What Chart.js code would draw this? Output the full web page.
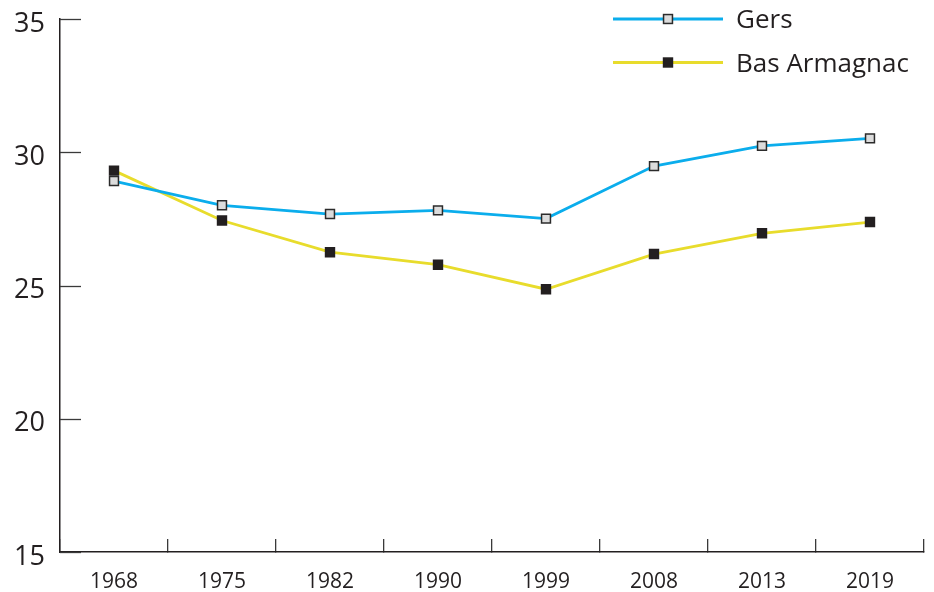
<!DOCTYPE html>
<html>
<head>
<meta charset="utf-8">
<script src="https://cdn.jsdelivr.net/npm/chart.js@4/dist/chart.umd.min.js"></script>
<style>
  html, body { margin: 0; padding: 0; background: #fff; }
  #wrap { width: 934px; height: 592px; }
</style>
</head>
<body>
<div id="wrap"><canvas id="ageChart"></canvas></div>
<script>
// data
var years = ['1968', '1975', '1982', '1990', '1999', '2008', '2013', '2019'];
var gers = [28.92, 28.01, 27.68, 27.82, 27.51, 29.48, 30.24, 30.52];
var basArmagnac = [29.31, 27.44, 26.25, 25.78, 24.86, 26.18, 26.96, 27.38];
var yTicks = [15, 20, 25, 30, 35];

var textColor = '#231f20';
var fontFamily = '"Open Sans", "Noto Sans", sans-serif';

// y ticks point into the plot, so draw them from the scale ourselves
var innerYTicks = {
  id: 'innerYTicks',
  afterDraw: function(chart) {
    var ctx = chart.ctx;
    var y = chart.scales.y;
    ctx.save();
    ctx.strokeStyle = '#3a3a3a';
    ctx.lineWidth = 1.3;
    y.ticks.forEach(function(t) {
      var py = Math.round(y.getPixelForValue(t.value)) + 0.5;
      ctx.beginPath();
      ctx.moveTo(y.right, py);
      ctx.lineTo(y.right + 21, py);
      ctx.stroke();
    });
    ctx.restore();
  }
};

// legend sits inside the plot, top right, with line + marker samples
var insideLegend = {
  id: 'insideLegend',
  afterDraw: function(chart) {
    var ctx = chart.ctx;
    var rows = [19, 62.5];
    ctx.save();
    chart.data.datasets.forEach(function(ds, i) {
      var y = rows[i];
      ctx.strokeStyle = ds.borderColor;
      ctx.lineWidth = ds.borderWidth;
      ctx.beginPath();
      ctx.moveTo(613, y);
      ctx.lineTo(723, y);
      ctx.stroke();
      ctx.fillStyle = ds.pointBackgroundColor;
      ctx.strokeStyle = ds.pointBorderColor;
      ctx.lineWidth = ds.pointBorderWidth;
      var s = ds.pointRadius * Math.SQRT1_2;
      ctx.fillRect(668 - s, y - s, 2 * s, 2 * s);
      ctx.strokeRect(668 - s, y - s, 2 * s, 2 * s);
      ctx.fillStyle = textColor;
      ctx.font = '26px ' + fontFamily;
      ctx.textBaseline = 'middle';
      ctx.textAlign = 'left';
      ctx.fillText(ds.label, 736, y + 2);
    });
    ctx.restore();
  }
};

var ctx = document.getElementById('ageChart');

var ageChart = new Chart(ctx, {
  type: 'line',
  data: {
    labels: years,
    datasets: [
      {
        label: 'Gers',
        data: gers,
        borderColor: '#0badec',
        borderWidth: 2.8,
        pointStyle: 'rect',
        pointRadius: 6.3,
        pointBackgroundColor: '#dcdcdc',
        pointBorderColor: '#2b2b2b',
        pointBorderWidth: 1.5,
        tension: 0
      },
      {
        label: 'Bas Armagnac',
        data: basArmagnac,
        borderColor: '#e8dc2c',
        borderWidth: 2.8,
        pointStyle: 'rect',
        pointRadius: 6.3,
        pointBackgroundColor: '#231f20',
        pointBorderColor: '#231f20',
        pointBorderWidth: 1.5,
        tension: 0
      }
    ]
  },
  options: {
    responsive: true,
    maintainAspectRatio: false,
    animation: false,
    layout: { padding: { left: 0, right: 10, top: 19, bottom: 0 } },
    plugins: {
      legend: { display: false },
      tooltip: { enabled: false }
    },
    scales: {
      x: {
        offset: true,
        grid: {
          offset: true,
          drawOnChartArea: false,
          drawTicks: true,
          tickLength: -13,
          color: '#3a3a3a',
          lineWidth: 1.3
        },
        border: { display: true, color: textColor, width: 1.5 },
        ticks: {
          color: textColor,
          padding: 30,
          font: { family: fontFamily, size: 21 }
        },
        afterFit: function(scale) {
          scale.height = 40;
          scale.paddingLeft = 0;
          scale.paddingRight = 0;
        }
      },
      y: {
        min: 15,
        max: 35,
        afterBuildTicks: function(scale) {
          scale.ticks = yTicks.map(function(v) { return { value: v }; });
        },
        grid: {
          drawOnChartArea: false,
          drawTicks: false
        },
        border: { display: true, color: textColor, width: 1.5 },
        ticks: {
          color: textColor,
          padding: 15,
          labelOffset: 5,
          font: { family: fontFamily, size: 27 }
        },
        afterFit: function(scale) {
          scale.width = 60;
          scale.paddingTop = 0;
          scale.paddingBottom = 0;
        }
      }
    }
  },
  plugins: [innerYTicks, insideLegend]
});
</script>
</body>
</html>
